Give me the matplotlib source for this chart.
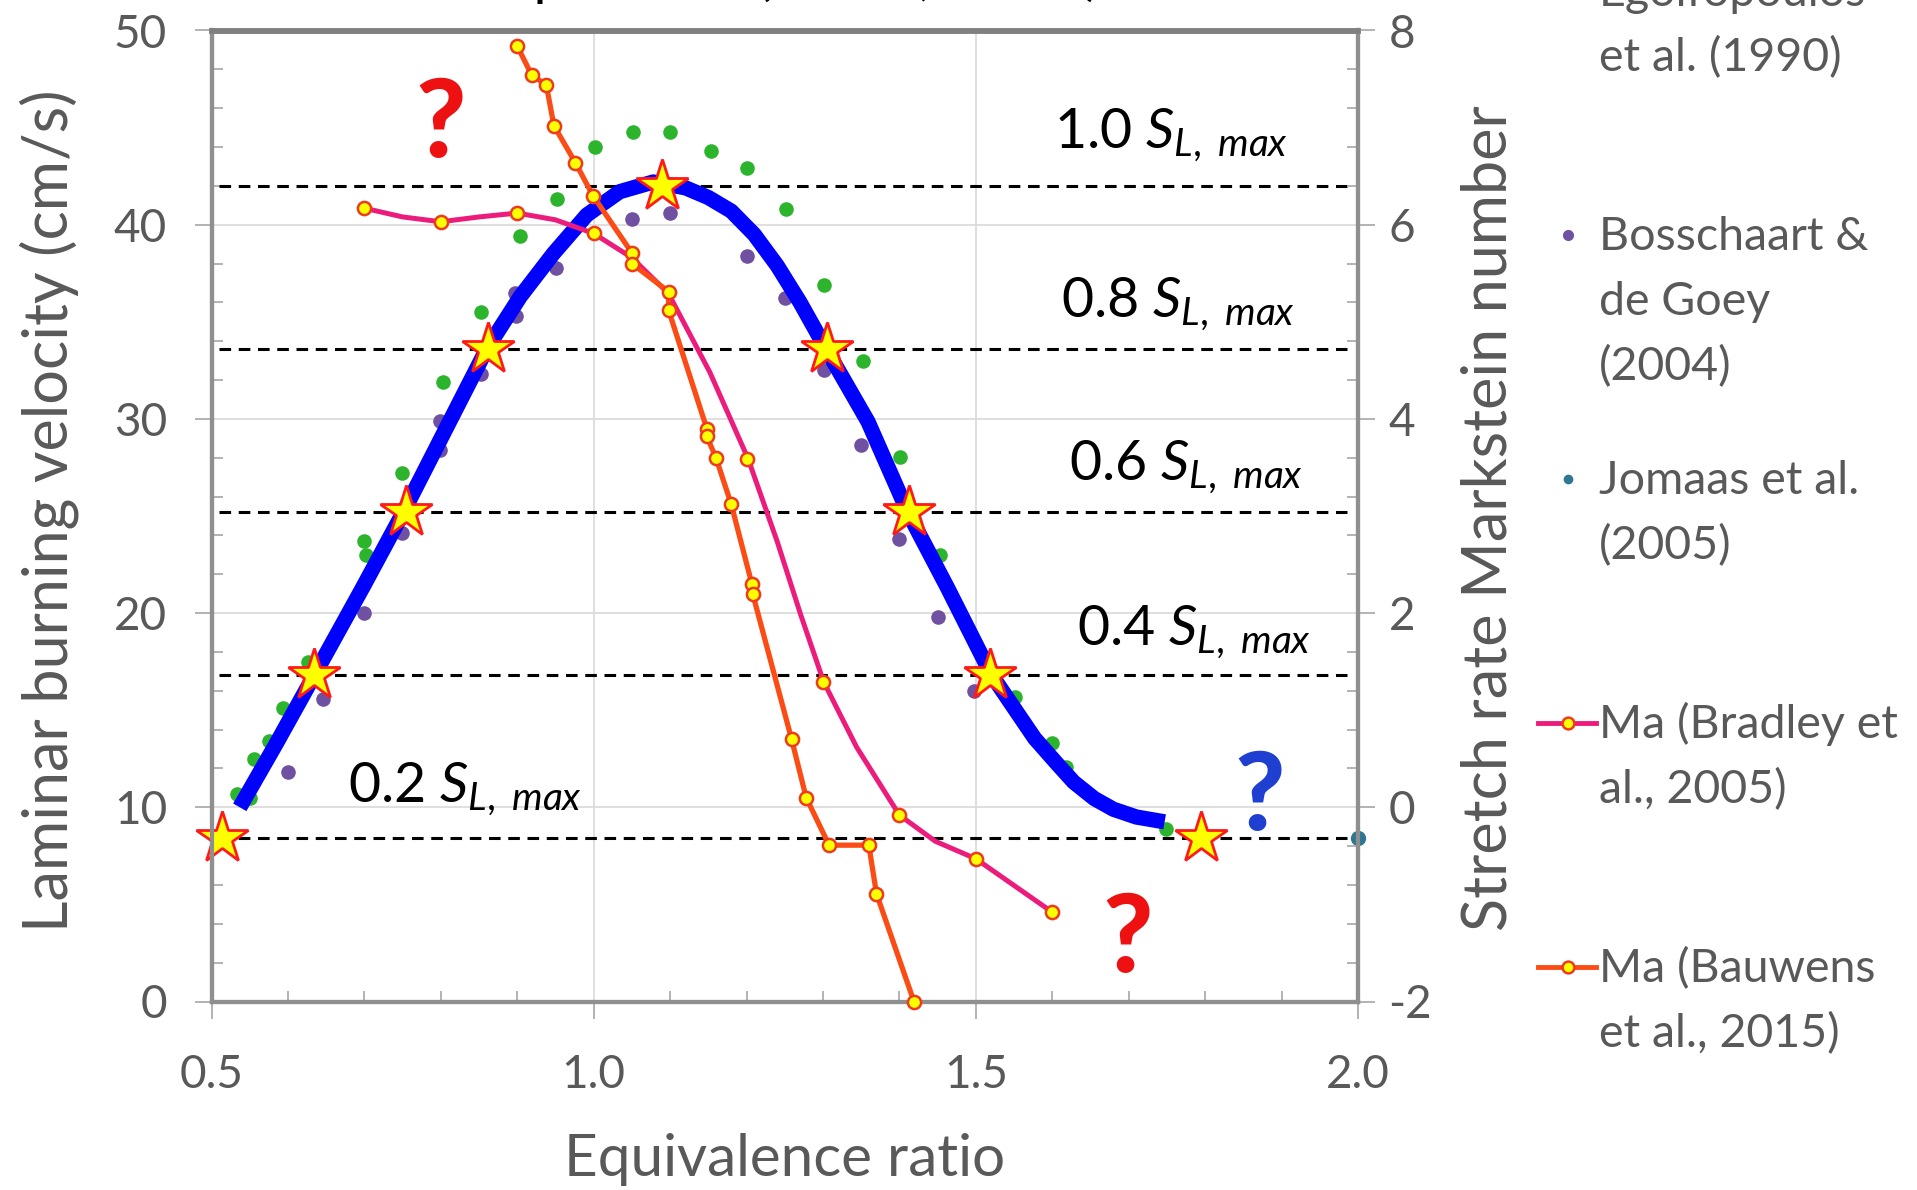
import numpy as np
import matplotlib
matplotlib.use("Agg")
import matplotlib.pyplot as plt
from matplotlib.lines import Line2D
from matplotlib.ticker import MultipleLocator, FormatStrFormatter

plt.rcParams['font.family'] = ['Lato', 'DejaVu Sans']
plt.rcParams['mathtext.fontset'] = 'custom'
plt.rcParams['mathtext.rm'] = 'Lato'
plt.rcParams['mathtext.it'] = 'Lato:italic'
plt.rcParams['mathtext.bf'] = 'Lato:bold'
plt.rcParams['axes.unicode_minus'] = False

# ---- data ----
# Egolfopoulos et al. (1990) - green dots, laminar burning velocity (cm/s)
egol_phi = [0.534, 0.551, 0.556, 0.575, 0.594, 0.626, 0.700, 0.702, 0.749, 0.803, 0.853,
            0.903, 0.952, 1.002, 1.052, 1.100, 1.154, 1.200, 1.252, 1.302, 1.352, 1.401,
            1.453, 1.551, 1.600, 1.618, 1.749]
egol_sl = [10.7, 10.5, 12.5, 13.4, 15.1, 17.5, 23.7, 23.0, 27.2, 31.9, 35.5,
           39.4, 41.3, 44.0, 44.75, 44.75, 43.8, 42.9, 40.8, 36.9, 33.0, 28.05,
           23.0, 15.7, 13.3, 12.1, 8.9]

# Bosschaart & de Goey (2004) - purple dots
boss_phi = [0.600, 0.646, 0.700, 0.749, 0.799, 0.799, 0.852, 0.897, 0.899, 0.951, 1.050,
            1.100, 1.200, 1.250, 1.302, 1.350, 1.400, 1.451, 1.498]
boss_sl = [11.8, 15.6, 20.0, 24.1, 28.4, 29.9, 32.3, 36.5, 35.3, 37.75, 40.3,
           40.6, 38.4, 36.2, 32.5, 28.65, 23.8, 19.8, 16.0]

# Jomaas et al. (2005)
joma_phi = [2.0]
joma_sl = [8.4]

# fitted burning velocity curve (blue)
fit_phi = [0.537, 0.585, 0.633, 0.699, 0.751, 0.799, 0.860, 0.904, 0.947, 0.991, 1.034,
           1.078, 1.120, 1.150, 1.180, 1.210, 1.240, 1.270, 1.302, 1.359, 1.411, 1.463,
           1.520, 1.577, 1.605, 1.628, 1.655, 1.680, 1.710, 1.747]
fit_sl = [10.0, 13.3, 16.7, 21.4, 25.2, 28.9, 33.6, 36.3, 38.5, 40.5, 41.7,
          42.2, 41.9, 41.4, 40.7, 39.5, 37.9, 36.0, 33.75, 29.85, 25.2, 21.3,
          16.85, 13.55, 12.3, 11.3, 10.45, 9.9, 9.5, 9.25]

# fractions of S_L,max (S_L,max = 42 cm/s)
sl_max = 42.0
frac_levels = [0.2, 0.4, 0.6, 0.8, 1.0]
frac_labels = ['0.2', '0.4', '0.6', '0.8', '1.0']
frac_text_phi = [0.679, 1.632, 1.622, 1.612, 1.602]
frac_text_sl = [10.29, 18.36, 26.85, 35.26, 43.95]

# stars where the curve crosses the fractions
star_phi = [0.514, 0.634, 0.755, 0.862, 1.089, 1.305, 1.413, 1.519, 1.795]
star_sl = [8.4, 16.8, 25.2, 33.6, 42.0, 33.6, 25.2, 16.8, 8.4]

# Markstein numbers (right axis)
brad_phi = [0.7, 0.8, 0.9, 1.0, 1.2, 1.3, 1.4, 1.5, 1.6]
brad_ma = [6.17, 6.03, 6.12, 5.91, 3.59, 1.29, -0.08, -0.53, -1.08]
brad_line_phi = [0.70, 0.75, 0.80, 0.85, 0.90, 0.95, 1.00, 1.05, 1.098, 1.152, 1.202,
                 1.24, 1.271, 1.301, 1.344, 1.40, 1.447, 1.50, 1.60]
brad_line_ma = [6.17, 6.08, 6.03, 6.08, 6.12, 6.05, 5.91, 5.66, 5.29, 4.48, 3.59,
                2.74, 1.98, 1.29, 0.62, -0.08, -0.35, -0.53, -1.08]

bauw_phi = [0.900, 0.919, 0.938, 0.948, 0.976, 0.999, 1.050, 1.050, 1.098, 1.098, 1.148,
            1.148, 1.160, 1.180, 1.207, 1.208, 1.259, 1.278, 1.308, 1.360, 1.370, 1.419]
bauw_ma = [7.84, 7.54, 7.44, 7.02, 6.64, 6.30, 5.71, 5.60, 5.31, 5.12, 3.90,
           3.82, 3.60, 3.12, 2.30, 2.20, 0.70, 0.10, -0.39, -0.39, -0.89, -2.00]

# question marks: (phi, S_L, colour)
qmarks = [(0.80, 43.5, '#ee1111'), (1.698, 1.5, '#ee1111'), (1.871, 8.83, '#1f3fd0')]

legend_lines = [["Egolfopoulos", "et al. (1990)"],
                ["Bosschaart &", "de Goey", "(2004)"],
                ["Jomaas et al.", "(2005)"],
                ["Ma (Bradley et", "al., 2005)"],
                ["Ma (Bauwens", "et al., 2015)"]]

# ---- style ----
W, H = 1917, 1190
GREEN = '#2cb52c'
PURPLE = '#7050a0'
TEAL = '#2f7790'
PINK = '#ec1c7c'
ORANGE = '#fa4c14'
EDGE = '#ee3a1f'
GRAY = '#595959'
SPINE = '#8f8f8f'

fig = plt.figure(figsize=(W / 100, H / 100), dpi=100)
ax = fig.add_axes([211.5 / W, 1 - 1001.5 / H, 1146.5 / W, 971 / H])
ax2 = ax.twinx()

ax.set_xlim(0.5, 2.0)
ax.set_ylim(0, 50)
ax2.set_ylim(-2, 8)

ax.xaxis.set_major_locator(MultipleLocator(0.5))
ax.xaxis.set_minor_locator(MultipleLocator(0.1))
ax.yaxis.set_major_locator(MultipleLocator(10))
ax.yaxis.set_minor_locator(MultipleLocator(2))
ax2.yaxis.set_major_locator(MultipleLocator(2))
ax2.yaxis.set_minor_locator(MultipleLocator(0.4))
ax.xaxis.set_major_formatter(FormatStrFormatter('%.1f'))

ax.grid(True, which='major', color='#d9d9d9', lw=1.2, zorder=0)
ax.set_axisbelow(True)

for a in (ax, ax2):
    for s in a.spines.values():
        s.set_color(SPINE)
        s.set_linewidth(3)
    a.spines['top'].set_linewidth(4)
    a.spines['top'].set_color('#808080')

ax.tick_params(which='major', direction='out', length=12, width=1.2, color='#a6a6a6',
               labelsize=33, labelcolor=GRAY)
ax.tick_params(axis='y', which='major', pad=20)
ax.tick_params(axis='x', which='major', pad=26)
ax.tick_params(which='minor', direction='in', length=8, width=1.2, color='#a6a6a6')
ax.tick_params(top=False, right=False, which='both')
ax2.tick_params(which='major', direction='out', length=12, width=1.2, color='#a6a6a6',
                labelsize=33, labelcolor=GRAY, pad=10)
ax2.tick_params(which='minor', direction='in', length=8, width=1.2, color='#a6a6a6')

# data points
ax.plot(egol_phi, egol_sl, 'o', color=GREEN, ms=10.5, mew=0, zorder=2)
ax.plot(boss_phi, boss_sl, 'o', color=PURPLE, ms=10.5, mew=0, zorder=2)
ax.plot(joma_phi, joma_sl, 'o', color=TEAL, ms=11, mew=0, zorder=6, clip_on=False)

# dashed fraction lines
for f in frac_levels:
    ax.hlines(f * sl_max, 0.51, 1.985, colors='k', lw=2.2,
              linestyles=(0, (3.8, 2.5)), zorder=3)

ax.plot(fit_phi, fit_sl, '-', color='#0000ff', lw=11, solid_capstyle='butt',
        solid_joinstyle='round', zorder=4)
ax.plot(star_phi, star_sl, '*', ms=39, mfc='#ffff00', mec='#ff1a1a', mew=2,
        zorder=5, clip_on=False)

for lab, xp, yp in zip(frac_labels, frac_text_phi, frac_text_sl):
    ax.text(xp, yp, lab + r' $S_{L,\ max}$', fontsize=40, color='k',
            ha='left', va='baseline', zorder=6)

for xq, yq, cq in qmarks:
    ax.text(xq, yq, '?', fontsize=78, fontweight=900, color=cq,
            ha='center', va='baseline', zorder=6)

# Markstein numbers on the right axis
ax2.plot(brad_line_phi, brad_line_ma, '-', color=PINK, lw=3.6, zorder=3,
         solid_joinstyle='round')
ax2.plot(brad_phi, brad_ma, 'o', ms=9.5, mfc='#ffff00', mec=EDGE, mew=1.8,
         zorder=4, clip_on=False)
ax2.plot(bauw_phi, bauw_ma, '-o', color=ORANGE, lw=3.8, ms=9.5, mfc='#ffff00',
         mec=EDGE, mew=1.8, zorder=4, clip_on=False)

# axis labels
ax.set_xlabel('Equivalence ratio', fontsize=42, color=GRAY)
ax.xaxis.label.set_va('center')
ax.xaxis.set_label_coords(0.5, -0.163)
ax.set_ylabel('Laminar burning velocity (cm/s)', fontsize=44, color=GRAY)
ax.yaxis.label.set_va('center')
ax.yaxis.set_label_coords(-0.142, 0.505)
ax2.set_ylabel('Stretch rate Markstein number', fontsize=44, color=GRAY)
ax2.yaxis.label.set_va('center')
ax2.yaxis.set_label_coords(1.114, 0.498)

# title cut off by the top edge
fig.text(426 / W, 1 + 6 / H, 'Temperature (298 K, 1 atm)', fontsize=40,
         color='k', ha='left', va='baseline')

# legend drawn by hand to keep the spacing of the original
tx = 1599 / W
base0 = 6
for i, lines in enumerate(legend_lines):
    b = base0 + i * 244
    for j, t in enumerate(lines):
        fig.text(tx, 1 - (b + j * 65) / H, t, fontsize=33.5, color=GRAY,
                 ha='left', va='baseline')
    my = 1 - (b - 15) / H
    if i == 0:
        h = Line2D([1568 / W], [my], marker='o', ls='', color=GREEN, ms=8, mew=0,
                   transform=fig.transFigure)
    elif i == 1:
        h = Line2D([1568 / W], [my], marker='o', ls='', color=PURPLE, ms=8, mew=0,
                   transform=fig.transFigure)
    elif i == 2:
        h = Line2D([1568 / W], [my], marker='o', ls='', color=TEAL, ms=7, mew=0,
                   transform=fig.transFigure)
    else:
        col = PINK if i == 3 else ORANGE
        h = Line2D([1538 / W, 1568 / W, 1596 / W], [my, my, my], color=col, lw=3.5,
                   marker='o', markevery=[1], ms=8.5, mfc='#ffff00', mec=EDGE, mew=1.8,
                   transform=fig.transFigure)
    fig.add_artist(h)

fig.savefig('out.png', dpi=100)
